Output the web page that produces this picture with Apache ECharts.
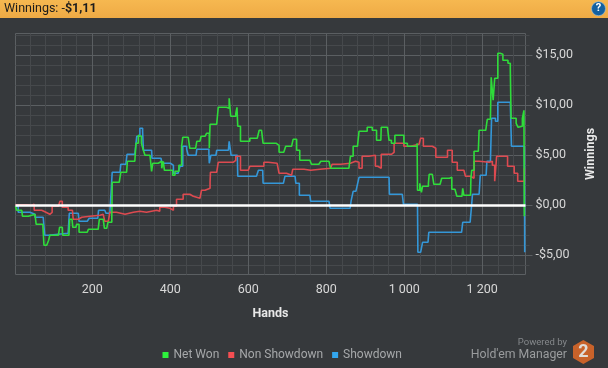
<!DOCTYPE html>
<html><head><meta charset="utf-8">
<style>html,body{margin:0;padding:0;background:#36393c}#c{width:608px;height:368px}</style>
<script src="https://cdn.jsdelivr.net/npm/echarts@6/dist/echarts.min.js"></script>
</head><body><div id="c"></div>
<script>
const seriesNames = ['Net Won', 'Non Showdown', 'Showdown'];
const netWonHands = [3,6,19,21,36,40,53,56,73,76,83,88,91,113,116,123,124,140,142,148,150,158,160,164,166,187,190,215,218,228,231,237,240,245,250,251,269,273,288,290,309,312,318,322,326,331,335,348,352,355,369,373,378,382,385,399,406,412,422,429,432,446,450,465,468,476,479,489,493,500,502,519,523,544,551,555,568,571,573,580,595,604,623,628,634,638,651,672,679,691,696,711,715,719,724,732,743,758,762,781,786,807,811,858,862,869,880,884,905,918,929,940,941,957,961,967,976,987,999,1008,1033,1034,1040,1044,1047,1062,1064,1072,1076,1092,1096,1116,1122,1130,1135,1148,1150,1153,1170,1171,1173,1179,1190,1192,1209,1213,1221,1223,1228,1232,1240,1246,1253,1266,1272,1274,1287,1292,1297,1303,1307,1308];
const netWonValues = [-0.1,-0.5,-0.6,-1.1,-1.1,-0.9,-1.1,-1.9,-1.9,-4.0,-3.9,-3.5,-3.0,-3.0,-2.2,-2.3,-3.0,-3.1,-1.4,-1.4,-2.2,-2.2,-1.9,-1.9,-2.7,-2.6,-2.4,-2.2,-1.4,-1.4,-2.3,-2.4,-1.7,-1.7,-1.2,2.3,2.5,3.3,3.4,4.4,4.5,6.2,7.0,6.9,6.2,5.5,5.0,5.0,3.4,4.2,4.2,4.4,3.7,4.4,3.5,3.5,3.0,3.4,4.0,5.9,6.8,6.7,5.7,5.6,6.4,6.4,6.9,7.0,7.2,5.7,8.1,8.2,9.8,9.7,10.7,8.9,9.2,9.8,7.9,6.4,6.4,6.7,6.9,7.5,7.5,6.2,6.2,6.0,5.3,5.3,5.9,5.9,6.6,6.6,5.5,4.5,4.5,4.5,4.1,4.1,4.4,4.2,3.7,3.9,4.9,5.9,6.0,7.4,7.8,7.5,6.5,6.5,7.8,7.9,6.5,6.2,7.0,7.0,6.2,5.9,6.2,1.5,2.2,1.3,1.9,2.2,3.1,3.0,2.1,2.2,2.7,2.8,1.6,1.5,0.9,0.9,1.7,1.0,1.0,2.7,3.5,5.4,5.5,7.5,7.5,8.6,8.7,12.8,10.5,12.7,15.2,15.1,14.5,14.2,13.7,8.7,8.2,7.8,7.9,8.7,9.5,-1.1];
const nonShowdownHands = [3,32,44,51,70,81,91,97,113,117,123,138,149,151,164,173,194,220,228,232,241,245,262,284,305,322,339,365,373,386,399,408,416,433,450,459,476,480,489,502,503,519,523,544,561,568,574,580,600,604,625,640,651,674,679,698,711,714,743,760,784,811,815,837,862,875,884,892,909,926,932,941,967,974,999,1016,1038,1042,1049,1072,1081,1111,1123,1136,1153,1157,1170,1179,1192,1218,1226,1232,1237,1248,1265,1282,1291,1298,1308];
const nonShowdownValues = [0.05,0,0.1,-0.5,-0.7,-0.9,-0.7,-0.1,0,0.4,-0.2,-0.5,-0.7,-1.4,-1.2,-1.1,-1.0,-0.9,-0.8,-1.6,-1.5,-0.7,-0.9,-0.7,-0.6,-0.7,-0.5,-0.6,-0.2,-0.3,-0.5,-0.1,0.6,1.1,0.9,0.7,0.6,1.5,1.7,2.3,3.3,3.3,4.3,4.3,4.5,4.9,4.9,3.5,3.5,3.9,3.9,4.3,4.2,4.0,3.2,3.0,3.0,3.6,3.5,3.6,3.7,3.9,4.1,4.2,4.4,4.3,3.7,4.9,5.0,3.9,3.7,5.1,5.3,6.2,5.9,6.1,6.3,6.7,5.9,5.7,4.8,5.5,4.3,3.5,3.4,2.9,2.7,4.4,4.3,4.4,4.0,2.4,4.9,4.9,3.9,3.2,2.4,2.4,3.7];
const showdownHands = [3,10,40,53,74,78,87,138,141,164,166,187,192,214,216,232,235,245,250,251,271,273,286,289,309,314,322,329,331,352,353,376,379,401,408,420,425,432,442,446,466,468,493,499,500,504,517,519,549,551,555,556,572,573,621,626,637,638,690,694,720,722,731,743,758,760,807,810,861,864,869,876,880,884,961,962,995,998,1034,1035,1042,1047,1061,1063,1147,1150,1169,1173,1175,1192,1195,1210,1212,1221,1224,1234,1240,1272,1275,1308,1309];
const showdownValues = [-0.1,-0.7,-0.9,-1.2,-1.3,-3.0,-2.8,-2.7,-0.8,-0.9,-1.6,-1.5,-1.3,-1.3,-0.5,-0.5,-0.8,-0.8,-0.8,3.3,3.3,4.1,4.2,5.1,5.1,6.9,7.7,7.4,5.5,5.5,4.7,4.7,4.2,4.0,3.2,3.2,3.9,5.9,5.6,5.0,5.0,5.6,5.6,5.2,4.2,5.0,5.0,5.5,5.5,6.4,6.4,5.0,5.0,2.9,3.0,3.5,3.5,2.2,2.2,2.9,2.9,2.2,1.0,1.0,1.0,0.4,0.4,-0.3,-0.3,0.5,1.4,1.5,2.1,2.8,2.8,1.1,1.0,0.1,0.1,-4.7,-4.5,-3.7,-3.7,-2.7,-2.7,-1.7,-1.7,0.1,1.1,1.1,3.0,3.0,4.4,4.4,8.7,8.4,10.3,10.3,5.9,5.8,-4.7];
const xMajorTicks = [200,400,600,800,1000,1200];
const xMinorTicks = [40,80,120,160,240,280,320,360,440,480,520,560,640,680,720,760,840,880,920,960,1040,1080,1120,1160,1240,1280];
const yMajorTicks = [-5,0,5,10,15];
const yMinorTicks = [-6,-4,-3,-2,-1,1,2,3,4,6,7,8,9,11,12,13,14,16,17];
const zip = (a, b) => a.map((v, i) => [v, b[i]]);
const MAJOR = '#5b5f62', MINOR = '#46494c', FONT = 'Roboto,"Noto Sans",sans-serif';
const fmtMoney = v => (v < 0 ? '-' : '') + '$' + Math.abs(v) + ',00';
const fmtHand = v => v >= 1000 ? Math.floor(v / 1000) + ' ' + String(v % 1000).padStart(3, '0') : String(v);
const xBase = {type:'value', min:3, max:1311, position:'bottom', axisLine:{show:false}};
const yBase = {type:'value', min:-6.92, max:17.18, position:'right', axisLine:{show:false}};
const chart = echarts.init(document.getElementById('c'), null, {renderer:'canvas'});
const line = (name, data, color, legendColor, z, extra) => Object.assign({
  name, type:'line', data, step:'end', showSymbol:false, symbol:'none', z, animation:false,
  lineStyle:{color, width:1.6}, itemStyle:{color:legendColor}
}, extra || {});
chart.setOption({
  animation:false,
  backgroundColor:'#36393c',
  textStyle:{fontFamily:FONT},
  grid:{left:15.5, top:33.5, width:510, height:241, show:true, borderColor:MAJOR, borderWidth:1, backgroundColor:'transparent', containLabel:false},
  xAxis:[
    Object.assign({}, xBase, {
      axisTick:{show:true, length:5, lineStyle:{color:MINOR}, customValues:xMinorTicks},
      axisLabel:{show:false, customValues:xMinorTicks},
      splitLine:{show:true, lineStyle:{color:MINOR, width:1}}
    }),
    Object.assign({}, xBase, {
      name:'Hands', nameLocation:'middle', nameGap:33,
      nameTextStyle:{color:'#e8e8e8', fontWeight:'bold', fontSize:12.5, fontFamily:FONT},
      axisTick:{show:true, length:5, lineStyle:{color:MAJOR}, customValues:xMajorTicks},
      axisLabel:{show:true, color:'#d8d8d8', fontSize:12.5, margin:9, formatter:fmtHand, customValues:xMajorTicks, fontFamily:FONT},
      splitLine:{show:true, lineStyle:{color:MAJOR, width:1}}
    })
  ],
  yAxis:[
    Object.assign({}, yBase, {
      axisTick:{show:true, length:4, lineStyle:{color:MINOR}, customValues:yMinorTicks},
      axisLabel:{show:false, customValues:yMinorTicks},
      splitLine:{show:true, lineStyle:{color:MINOR, width:1}}
    }),
    Object.assign({}, yBase, {
      name:'Winnings', nameLocation:'middle', nameGap:52, nameRotate:90,
      nameTextStyle:{color:'#e8e8e8', fontWeight:'bold', fontSize:12.5, fontFamily:FONT},
      axisTick:{show:true, length:7, lineStyle:{color:MAJOR}, customValues:yMajorTicks},
      axisLabel:{show:true, color:'#d8d8d8', fontSize:12.5, margin:10, padding:[4,0,0,0], formatter:fmtMoney, customValues:yMajorTicks, fontFamily:FONT},
      splitLine:{show:true, lineStyle:{color:MAJOR, width:1}}
    })
  ],
  legend:{
    left:162.5, top:349, padding:0, itemWidth:6, itemHeight:6, itemGap:9, icon:'rect',
    textStyle:{color:'#a6a8aa', fontSize:12, fontFamily:FONT},
    data:seriesNames
  },
  series:[
    line(seriesNames[0], zip(netWonHands, netWonValues), '#2fdc3a', '#2df23c', 5, {
      markLine:{silent:true, symbol:'none', z:10, animation:false, label:{show:false},
        lineStyle:{color:'#ffffff', width:2.5, type:'solid'}, data:[{yAxis:0}]}
    }),
    line(seriesNames[1], zip(nonShowdownHands, nonShowdownValues), '#dd4a50', '#f54e52', 4),
    line(seriesNames[2], zip(showdownHands, showdownValues), '#3497d8', '#33a6ee', 3)
  ],
  graphic:[
    {type:'rect', left:0, top:0, z:20, shape:{width:608, height:18},
      style:{fill:new echarts.graphic.LinearGradient(0,0,0,1,[{offset:0,color:'#f6b850'},{offset:1,color:'#eeaa45'}])}},
    {type:'text', left:4, top:2, z:21, style:{rich:{a:{fontSize:12.5, fill:'#1c1c1c', fontFamily:FONT}, b:{fontSize:12.5, fontWeight:'bold', fill:'#1c1c1c', fontFamily:FONT}}, text:'{a|Winnings: -}{b|$1,11}'}},
    {type:'circle', z:21, shape:{cx:598.5, cy:8.7, r:7}, style:{fill:'#14609f', stroke:'#9cc4e4', lineWidth:0.6}},
    {type:'text', z:22, x:598.5, y:8.7, style:{text:'?', fill:'#ffffff', fontSize:11, fontWeight:'bold', fontFamily:FONT, align:'center', verticalAlign:'middle'}},
    {type:'text', z:21, x:567, y:342.5, style:{text:'Powered by', fill:'#85888b', fontSize:9.5, fontFamily:FONT, align:'right', verticalAlign:'middle'}},
    {type:'text', z:21, x:567, y:355, style:{text:"Hold'em Manager", fill:'#9a9c9e', fontSize:12.3, fontFamily:FONT, align:'right', verticalAlign:'middle'}},
    {type:'polygon', z:21, shape:{points:[[583.3,340],[594,346],[594,358],[583.3,364],[573,358],[573,346]]}, style:{fill:'#c8622a'}},
    {type:'text', z:22, x:583.3, y:352, style:{text:'2', fill:'#e0dcd8', fontSize:18, fontWeight:'bold', fontFamily:FONT, align:'center', verticalAlign:'middle'}}
  ]
});
</script></body></html>
